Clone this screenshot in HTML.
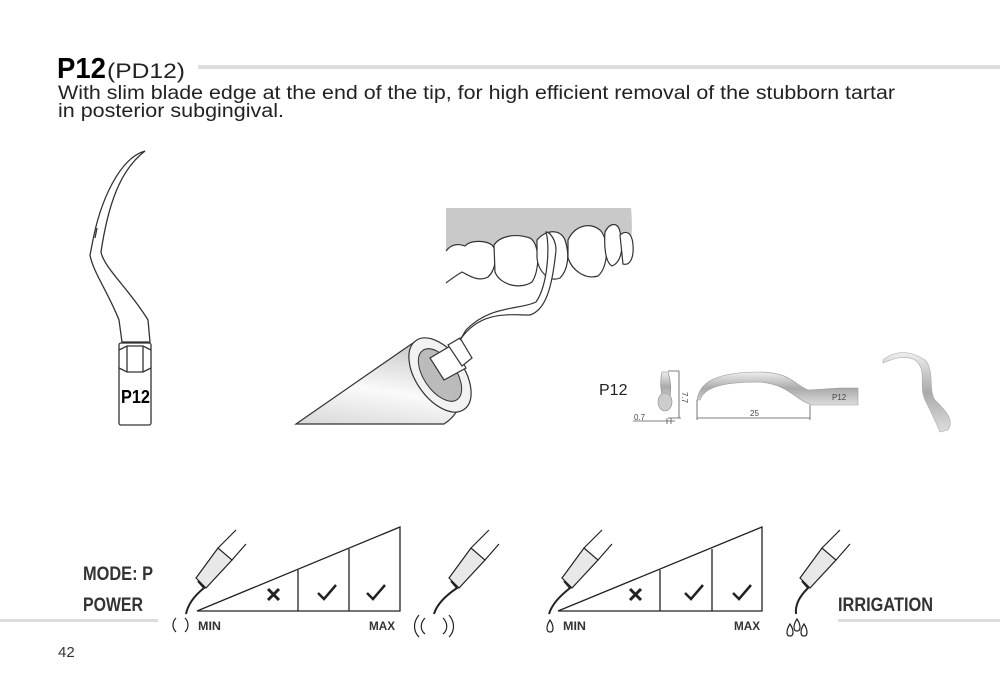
<!DOCTYPE html>
<html><head><meta charset="utf-8"><style>
body{margin:0;background:#fff;}
svg{display:block}
text{font-family:"Liberation Sans",sans-serif}
</style></head><body>
<svg width="1000" height="675" viewBox="0 0 1000 675" xmlns="http://www.w3.org/2000/svg">
<defs>
<linearGradient id="hp" x1="0" y1="1" x2="0.3" y2="0">
<stop offset="0" stop-color="#d8d8d8"/><stop offset="0.5" stop-color="#fafafa"/><stop offset="1" stop-color="#cfcfcf"/>
</linearGradient>
<linearGradient id="met" x1="0" y1="0" x2="0" y2="1">
<stop offset="0" stop-color="#eee"/><stop offset="0.5" stop-color="#aaa"/><stop offset="1" stop-color="#ddd"/>
</linearGradient>
</defs>
<!-- header -->
<text x="57" y="78" font-size="29" font-weight="bold" textLength="49" lengthAdjust="spacingAndGlyphs">P12</text>
<text x="107" y="78" font-size="21" fill="#222" textLength="78" lengthAdjust="spacingAndGlyphs">(PD12)</text>
<rect x="198" y="65" width="802" height="4" fill="#dedede"/>
<text x="58" y="99" font-size="19" fill="#222" textLength="837" lengthAdjust="spacingAndGlyphs">With slim blade edge at the end of the tip, for high efficient removal of the stubborn tartar</text>
<text x="58" y="117" font-size="19" fill="#222" textLength="226" lengthAdjust="spacingAndGlyphs">in posterior subgingival.</text>

<!-- left tip -->
<g fill="none" stroke="#333" stroke-width="1.3">
<path d="M145,151 C120,158 100,200 92,245 L90,255 C93,272 108,292 119,320 L122,342 L150,342 L148,320 C130,290 104,268 101,252 C108,205 120,170 145,151 Z" fill="#fff"/>
<path d="M97,228 L95,238"/>
<rect x="119" y="343" width="32" height="82" rx="2" fill="#fff"/>
<path d="M119,350 L127,346 L143,346 L151,350 M119,368 L127,372 L143,372 L151,368 M127,346 L127,372 M143,346 L143,372"/>
</g>
<text x="121" y="403" font-size="18" font-weight="bold" textLength="29" lengthAdjust="spacingAndGlyphs">P12</text>

<!-- teeth scene -->
<path d="M446,208 L631,208 C633,230 632,245 625,255 L446,255 Z" fill="#c9c9c9"/>
<g fill="#fff" stroke="#333" stroke-width="1.2">
<path d="M446,251 C452,243 460,244 465,246 C470,240 485,240 492,245 C498,252 496,270 488,277 C478,282 470,276 462,272 C455,276 450,280 446,283"/>
<path d="M494,245 C500,236 515,233 530,238 C540,244 540,270 532,282 C520,290 500,285 495,272 Z"/>
<path d="M537,240 C545,230 560,228 565,240 C570,255 568,270 560,278 C548,283 538,270 537,258 Z"/>
<path d="M568,240 C575,225 590,222 600,230 C610,240 608,268 598,276 C585,280 572,270 568,258 Z"/>
<path d="M605,232 C610,222 618,222 620,232 C624,245 622,262 612,266 C605,262 604,245 605,232 Z"/>
<path d="M620,235 C626,230 632,232 633,245 C634,258 630,266 623,264 Z"/>
</g>
<!-- handpiece -->
<path d="M296,424 L410,345 C430,330 455,350 462,380 C465,400 458,415 444,424 Z" fill="url(#hp)" stroke="#333" stroke-width="1.2"/>
<ellipse cx="440" cy="375" rx="24" ry="42" transform="rotate(-35 440 375)" fill="#f2f2f2" stroke="#333" stroke-width="1.2"/>
<ellipse cx="440" cy="375" rx="16" ry="30" transform="rotate(-35 440 375)" fill="#bbb" stroke="#333" stroke-width="1"/>
<path d="M430,358 L452,345 L466,368 L444,380 Z" fill="#fff" stroke="#333" stroke-width="1.2"/>
<path d="M448,345 L460,338 L472,358 L462,366 Z" fill="#fff" stroke="#333" stroke-width="1.2"/>
<path d="M460,340 C480,310 510,315 530,315 C545,310 552,290 556,250 C556,240 550,232 546,232 C550,245 548,285 536,302 C520,310 490,305 466,330 Z" fill="#fff" stroke="#333" stroke-width="1.2"/>

<!-- dimension figure -->
<text x="599" y="395" font-size="16" fill="#222">P12</text>
<path d="M662,372 C660,380 660,395 665,402 C672,400 672,385 668,372 Z" fill="url(#met)" stroke="#888" stroke-width="0.6"/>
<ellipse cx="665" cy="402" rx="7" ry="9" fill="#ccc" stroke="#888" stroke-width="0.6"/>
<path d="M668,371 L679,371 M679,371 L679,418 M668,418 L681,418 M633,421 L675,421 M667,418 L667,424 M671,418 L671,424" stroke="#555" stroke-width="0.8" fill="none"/>
<text x="634" y="420" font-size="8" fill="#444">0.7</text>
<text x="682" y="392" font-size="8" fill="#444" transform="rotate(90 682 392)">7.7</text>
<path d="M697,400 C700,380 720,372 760,372 C790,372 795,385 808,390 L840,388 L858,388 L858,405 L840,405 L812,405 C795,400 790,385 760,382 C730,382 705,385 700,400 Z" fill="url(#met)" stroke="#999" stroke-width="0.6"/>
<text x="832" y="400" font-size="8" fill="#444">P12</text>
<path d="M697,400 L697,420 M810,405 L810,420 M697,418 L810,418" stroke="#555" stroke-width="0.8" fill="none"/>
<text x="750" y="416" font-size="8" fill="#444">25</text>
<path d="M883,360 C895,350 910,350 925,360 C935,370 928,390 935,400 C945,410 955,420 948,430 L940,432 C935,420 930,410 925,400 C918,385 928,370 915,360 C905,355 895,358 883,363 Z" fill="url(#met)" stroke="#aaa" stroke-width="0.6"/>

<!-- bottom lines -->
<rect x="0" y="619" width="158" height="3" fill="#ddd"/>
<rect x="838" y="619" width="162" height="3" fill="#ddd"/>

<!-- power triangle -->
<g fill="none" stroke="#222" stroke-width="1.3">
<path d="M197,611 L400,527 L400,611 Z"/>
<path d="M298,570 L298,611 M349,549 L349,611"/>
<path d="M558,611 L762,527 L762,611 Z"/>
<path d="M660,570 L660,611 M712,549 L712,611"/>
<path d="M268,589 L279,600 M279,589 L268,600 M630,589 L641,600 M641,589 L630,600" stroke-width="3"/>
<path d="M318,593 L324,599 L336,585 M367,593 L373,599 L385,585 M685,593 L691,599 L703,585 M733,593 L739,599 L751,585" stroke-width="2.5"/>
</g>
<g font-weight="bold" fill="#333">
<text x="83" y="580" font-size="19" textLength="70" lengthAdjust="spacingAndGlyphs">MODE: P</text>
<text x="83" y="611" font-size="19" textLength="60" lengthAdjust="spacingAndGlyphs">POWER</text>
<text x="198" y="630" font-size="12" textLength="23" lengthAdjust="spacingAndGlyphs">MIN</text>
<text x="369" y="630" font-size="12" textLength="26" lengthAdjust="spacingAndGlyphs">MAX</text>
<text x="563" y="630" font-size="12" textLength="23" lengthAdjust="spacingAndGlyphs">MIN</text>
<text x="734" y="630" font-size="12" textLength="26" lengthAdjust="spacingAndGlyphs">MAX</text>
<text x="838" y="611" font-size="19" textLength="95" lengthAdjust="spacingAndGlyphs">IRRIGATION</text>
</g>
<!-- small handpieces -->
<g fill="#e8e8e8" stroke="#222" stroke-width="1.2">
<path d="M196,578 L218,548 L232,560 L206,588 Z"/>
<path d="M218,548 L236,530 M232,560 L246,544" fill="none"/>
<path d="M198,581 L204,588 C194,596 188,604 186,614" fill="none" stroke-width="2"/>
<path d="M449,578 L471,548 L485,560 L459,588 Z"/>
<path d="M471,548 L489,530 M485,560 L499,544" fill="none"/>
<path d="M451,581 L457,588 C445,596 437,604 434,614" fill="none" stroke-width="2"/>
<path d="M562,578 L584,548 L598,560 L572,588 Z"/>
<path d="M584,548 L602,530 M598,560 L612,544" fill="none"/>
<path d="M564,581 L570,588 C560,596 552,604 549,614" fill="none" stroke-width="2"/>
<path d="M800,578 L822,548 L836,560 L810,588 Z"/>
<path d="M822,548 L840,530 M836,560 L850,544" fill="none"/>
<path d="M802,581 L808,588 C800,596 795,604 796,614" fill="none" stroke-width="2"/>
</g>
<g fill="none" stroke="#222" stroke-width="1.2">
<path d="M176,618 C172,622 172,628 176,632 M185,618 C189,622 189,628 185,632"/>
<path d="M425,618 C420,623 420,630 425,634 M419,615 C413,622 413,631 419,637 M443,618 C448,623 448,630 443,634 M449,615 C455,622 455,631 449,637"/>
</g>
<g fill="#fff" stroke="#222" stroke-width="1.2">
<path d="M550,620 C546,626 546,632 550,632 C554,632 554,626 550,620 Z"/>
<path d="M790,624 C786,630 786,636 790,636 C794,636 794,630 790,624 Z"/>
<path d="M797,619 C793,625 793,631 797,631 C801,631 801,625 797,619 Z"/>
<path d="M804,624 C800,630 800,636 804,636 C808,636 808,630 804,624 Z"/>
</g>

<text x="58" y="657" font-size="15" fill="#333">42</text>
</svg>
</body></html>
